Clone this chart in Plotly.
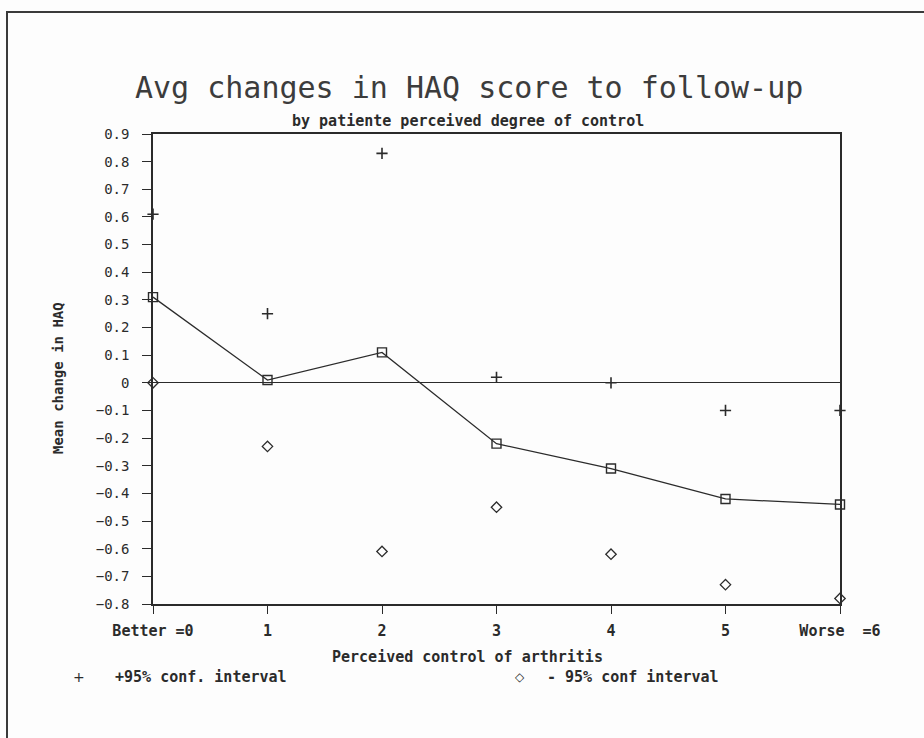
import plotly.graph_objects as go

# Perceived control of arthritis (0 = better ... 6 = worse)
control = [0, 1, 2, 3, 4, 5, 6]
tick_text = ["Better =0", "1", "2", "3", "4", "5", "Worse  =6"]

# Mean change in HAQ score and its 95% confidence limits
mean_change = [0.31, 0.01, 0.11, -0.22, -0.31, -0.42, -0.44]
upper_ci = [0.61, 0.25, 0.83, 0.02, 0.00, -0.10, -0.10]
lower_ci = [0.00, -0.23, -0.61, -0.45, -0.62, -0.73, -0.78]

y_ticks = [round(-0.8 + 0.1 * i, 1) for i in range(18)]
y_tick_text = ["0" if abs(v) < 1e-9 else f"{v:.1f}".replace("-", "\u2212") for v in y_ticks]

INK = "#2b2b2b"
W, H = 924, 738
L, R, T, B = 153, 840, 134, 604  # plot area in pixels


def px(x):
    return (x - L) / (R - L)


def py(y):
    return (B - y) / (B - T)


fig = go.Figure()

fig.add_trace(go.Scatter(
    x=control, y=mean_change, mode="lines+markers",
    line=dict(color=INK, width=1.3),
    marker=dict(symbol="square-open", size=9, color=INK, line=dict(width=1.4)),
    cliponaxis=False, showlegend=False,
))
fig.add_trace(go.Scatter(
    x=control, y=upper_ci, mode="markers",
    marker=dict(symbol="cross-thin", size=8, color=INK, line=dict(width=1.6, color=INK)),
    cliponaxis=False, showlegend=False,
))
fig.add_trace(go.Scatter(
    x=control, y=lower_ci, mode="markers",
    marker=dict(symbol="diamond-open", size=8, color=INK, line=dict(width=1.3)),
    cliponaxis=False, showlegend=False,
))

label_font = dict(family="DejaVu Sans Mono", size=15, color=INK, weight="bold")

annotations = [
    dict(text="Avg changes in HAQ score to follow-up", x=px(469), y=py(88),
         font=dict(family="DejaVu Sans Mono", size=30, color="#3c3c3c")),
    dict(text="by patiente perceived degree of control", x=px(468), y=py(121),
         font=dict(family="DejaVu Sans Mono", size=15, color=INK, weight="bold")),
    dict(text="Perceived control of arthritis", x=px(467), y=py(657), font=label_font),
    dict(text="Mean change in HAQ", x=px(58), y=py(378), textangle=-90,
         font=dict(family="DejaVu Sans Mono", size=14, color=INK, weight="bold")),
    dict(text="+", x=px(79), y=py(677), font=dict(family="DejaVu Sans", size=14, color=INK)),
    dict(text="+95% conf. interval", x=px(113), y=py(677), xanchor="left", font=label_font),
    dict(text="\u25C7", x=px(520), y=py(677), font=dict(family="DejaVu Sans", size=12, color=INK)),
    dict(text="- 95% conf interval", x=px(545), y=py(677), xanchor="left", font=label_font),
]
for a in annotations:
    a.setdefault("xanchor", "center")
    a.update(xref="paper", yref="paper", yanchor="middle", showarrow=False)

fig.update_layout(
    width=W, height=H,
    margin=dict(l=L, r=W - R, t=T, b=H - B, pad=0),
    paper_bgcolor="#fdfdfd", plot_bgcolor="#fdfdfd",
    annotations=annotations,
    shapes=[dict(type="rect", xref="paper", yref="paper",
                 x0=px(7), y0=py(760), x1=px(950), y1=py(12),
                 line=dict(color="#3a3a3a", width=2))],
    xaxis=dict(
        range=[0, 6], tickvals=control, ticktext=tick_text,
        showgrid=False, zeroline=False,
        showline=True, linecolor=INK, linewidth=1.5, mirror=True,
        ticks="outside", ticklen=8, tickwidth=1.3, tickcolor=INK,
        ticklabelstandoff=4,
        tickfont=dict(family="DejaVu Sans Mono", size=15, color=INK, weight="bold"),
    ),
    yaxis=dict(
        range=[-0.8, 0.9], tickvals=y_ticks, ticktext=y_tick_text,
        showgrid=False, zeroline=True, zerolinecolor=INK, zerolinewidth=1.3,
        showline=True, linecolor=INK, linewidth=1.5, mirror=True,
        ticks="outside", ticklen=9, tickwidth=1.3, tickcolor=INK,
        ticklabelstandoff=10,
        tickfont=dict(family="DejaVu Sans Mono", size=14, color=INK),
    ),
)

fig.write_html("out.html")
